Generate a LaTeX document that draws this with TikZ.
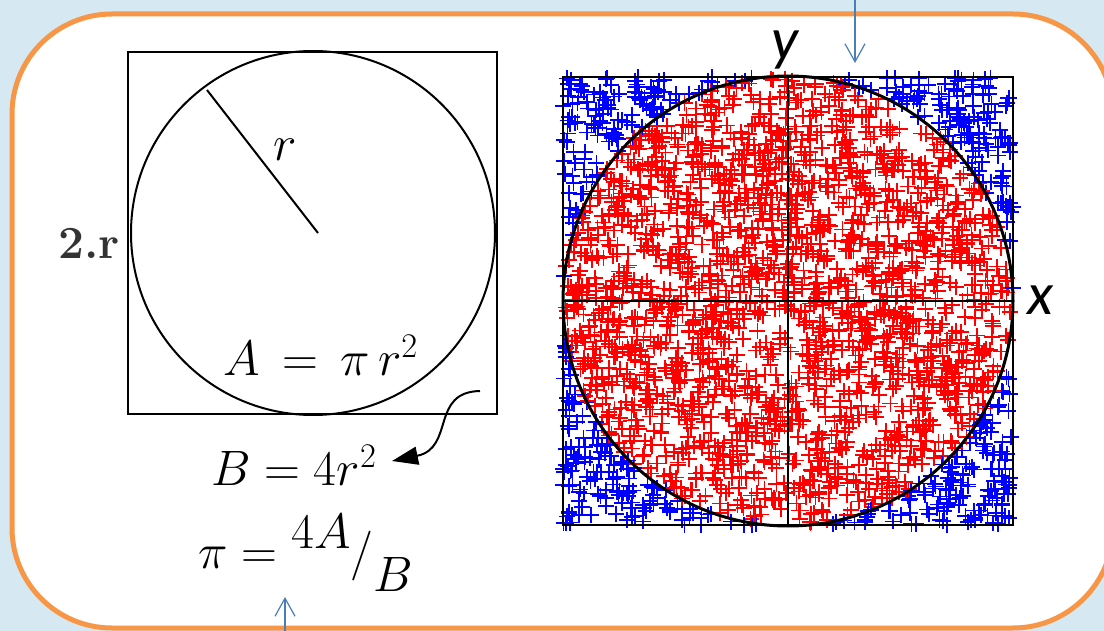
\documentclass[tikz,border=0pt]{standalone}
\usepackage{fontspec}
\newfontfamily\axisfont{Carlito}
\usetikzlibrary{arrows.meta,calc}
\definecolor{bgblue}{HTML}{D6E8F2}
\definecolor{frameorange}{HTML}{F79646}
\definecolor{arrowblue}{HTML}{4A7EBB}
\definecolor{labelgray}{HTML}{333333}
\tikzset{
  frame/.style={frameorange, line width=2.5pt, fill=white, rounded corners=50pt},
  outline/.style={black, line width=1pt},
  formula/.style={font=\fontsize{23}{27}\selectfont, inner sep=0pt},
  bluearrow/.style={arrowblue, line width=0.6pt, -{Straight Barb[length=9pt,width=10pt]}},
  crossmark/.style={line width=0.9pt},
  axislabel/.style={font=\axisfont\itshape\fontsize{30}{32}\selectfont, inner sep=0pt}
}
\begin{document}
\begin{tikzpicture}[x=0.5pt,y=-0.5pt]
\useasboundingbox (0,0) rectangle (1104,631);
\fill[bgblue] (0,0) rectangle (1104,631);
\begin{scope}
  \clip (0,0) rectangle (1104,631);
  \draw[frame] (12,14) rectangle (1113,628);
\end{scope}

% left figure
\draw[outline] (128,52) rectangle (497,414);
\draw[outline] (313,233) circle[radius=182];
\coordinate (rimpt) at (207,90);
\coordinate (ctr) at (318,233);
\draw[outline] (rimpt) -- (ctr);
\node[formula] (rlab) at (285,150) {$r$};
\node[font=\bfseries\fontsize{23}{26}\selectfont, text=labelgray, inner sep=0pt] (twor) at (89,243) {2.r};
\node[formula] (areaA) at (321,355) {$A \,=\, \pi\, r^{2}$};
\node[formula] (areaB) at (294,465) {$B = 4r^{2}$};
\node[formula] (piform) at (306,553) {$\pi = \raisebox{0.45em}{$4A$}\bigg/\raisebox{-0.5em}{$B$}$};
\coordinate (cstart) at (480,391);
\coordinate (cend) at (392,461);
\draw[line width=1pt, -{Triangle[length=13pt,width=9pt]}] (cstart) .. controls (430,392) and (455,448) .. (cend);

% right figure: random crosses
\pgfmathsetseed{11}
\foreach \i in {1,...,2700}{
  \pgfmathsetmacro\pu{2*rnd-1}
  \pgfmathsetmacro\pv{2*rnd-1}
  \pgfmathsetmacro\px{788+225*(\pu)}
  \pgfmathsetmacro\py{301+224*(\pv)}
  \pgfmathtruncatemacro\pin{(\pu)*(\pu)+(\pv)*(\pv) < 1 ? 1 : 0}
  \ifnum\pin=1
    \draw[crossmark, red] (\px-8,\py) -- ++(16,0) (\px,\py-8) -- ++(0,16);
  \else
    \draw[crossmark, blue] (\px-8,\py) -- ++(16,0) (\px,\py-8) -- ++(0,16);
  \fi
}
\draw[outline] (563,77) rectangle (1013,525);
\draw[black, line width=1.5pt] (788,301) circle[radius=225];
\coordinate (yaxtop) at (788,77);
\coordinate (yaxbot) at (788,525);
\coordinate (xaxl) at (563,301);
\coordinate (xaxr) at (1013,301);
\draw[outline] (yaxtop) -- (yaxbot);
\draw[outline] (xaxl) -- (xaxr);
\node[axislabel] (ylab) at (785,50) {y};
\node[axislabel] (xlab) at (1040,300) {x};

% blue arrows
\coordinate (ta) at (855,0);
\coordinate (tb) at (855,63);
\draw[bluearrow] (ta) -- (tb);
\coordinate (ba) at (285,631);
\coordinate (bb) at (285,597);
\draw[bluearrow] (ba) -- (bb);
\end{tikzpicture}
\end{document}
